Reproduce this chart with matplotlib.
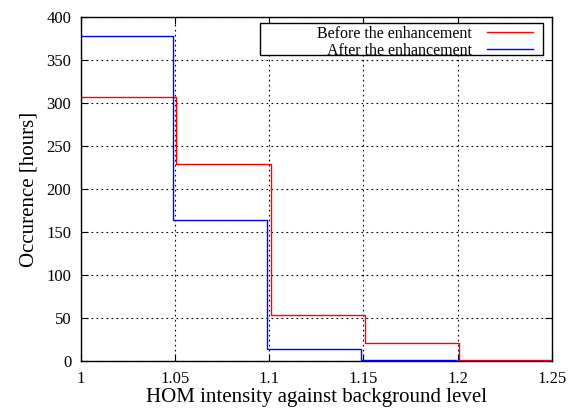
import matplotlib
matplotlib.use("Agg")
import matplotlib.pyplot as plt
import matplotlib.transforms as mtransforms
from matplotlib.patches import Rectangle

# HOM intensity bins (lower/upper edges) and occurrence in hours
bin_edges = [1.00, 1.05, 1.10, 1.15, 1.20, 1.25]
before_hours = [307, 229, 53, 21, 1]
after_hours = [378, 164, 14, 1, 0]

plt.rcParams["font.family"] = ["Liberation Serif", "DejaVu Serif"]

fig = plt.figure(figsize=(5.79, 4.13), dpi=100)
ax = fig.add_axes([0.14, 0.126, 0.813, 0.833])

# small horizontal shift so the two step curves don't sit on top of each other
red_tr = mtransforms.offset_copy(ax.transData, fig=fig, x=1.2, y=0, units="dots")
blue_tr = mtransforms.offset_copy(ax.transData, fig=fig, x=-2.0, y=0, units="dots")

ax.step(bin_edges, before_hours + [before_hours[-1]], where="post",
        color="#ff0000", lw=1.0, label="Before the enhancement",
        transform=red_tr, zorder=3)
ax.step(bin_edges, after_hours + [after_hours[-1]], where="post",
        color="#0000ff", lw=1.0, label="After the enhancement",
        transform=blue_tr, zorder=3)

ax.set_xlim(1.0, 1.25)
ax.set_ylim(0, 400)
ax.set_xticks([1, 1.05, 1.1, 1.15, 1.2, 1.25])
ax.set_xticklabels(["1", "1.05", "1.1", "1.15", "1.2", "1.25"])
ax.set_yticks(range(0, 401, 50))

ax.tick_params(direction="in", top=True, right=True, length=5, width=0.8,
               labelsize=12, pad=7)
ax.grid(True, color="black", linestyle=(0, (1.5, 3)), linewidth=0.8)
for s in ax.spines.values():
    s.set_linewidth(1.0)

ax.set_xlabel("HOM intensity against background level", fontsize=15, labelpad=1)
ax.set_ylabel("Occurence [hours]", fontsize=15, labelpad=6)

# gnuplot-style key: text right-aligned, sample line on the right
leg = ax.legend(loc="upper right", bbox_to_anchor=(0.974, 0.993),
                markerfirst=False, frameon=False, fontsize=11.5,
                handlelength=2.9, handletextpad=0.95, labelspacing=0.05,
                borderaxespad=0.0)
leg.set_zorder(6)
ax.add_patch(Rectangle((0.38, 0.8895), 0.601, 0.0935, transform=ax.transAxes,
                       facecolor="white", edgecolor="black", lw=1.0, zorder=5))

fig.savefig("out.png", dpi=100)
